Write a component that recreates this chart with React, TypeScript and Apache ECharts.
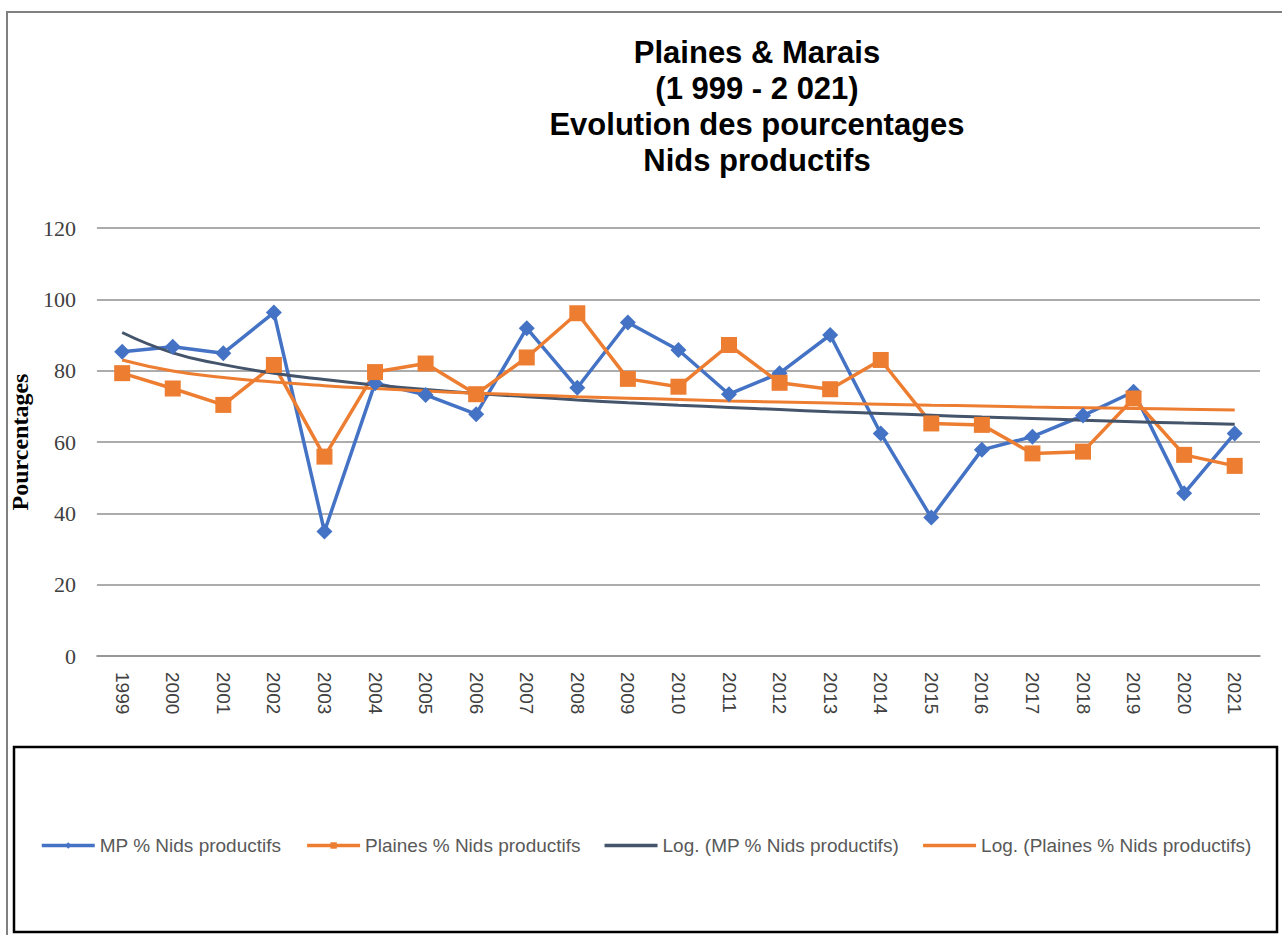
import React, { useEffect, useRef } from "react";
import * as echarts from "echarts";

const years = ["1999","2000","2001","2002","2003","2004","2005","2006","2007","2008","2009","2010","2011","2012","2013","2014","2015","2016","2017","2018","2019","2020","2021"];
const mpValues = [85.3, 86.7, 84.9, 96.3, 34.9, 76.5, 73.2, 67.8, 91.9, 75.2, 93.5, 85.8, 73.4, 79.3, 90.0, 62.4, 38.8, 57.8, 61.5, 67.4, 74.1, 45.6, 62.4];
const plainesValues = [79.3, 75.0, 70.4, 81.6, 55.9, 79.6, 82.0, 73.4, 83.7, 96.1, 77.7, 75.5, 87.2, 76.6, 74.8, 83.0, 65.2, 64.8, 56.8, 57.3, 72.2, 56.4, 53.3];
const logMpValues = [90.7, 85.0, 81.7, 79.3, 77.5, 76.0, 74.7, 73.6, 72.7, 71.8, 71.0, 70.3, 69.7, 69.1, 68.5, 68.0, 67.5, 67.0, 66.6, 66.1, 65.7, 65.3, 65.0];
const logPlainesValues = [83.0, 79.9, 78.1, 76.8, 75.8, 75.0, 74.3, 73.7, 73.2, 72.7, 72.3, 71.9, 71.5, 71.2, 70.9, 70.6, 70.3, 70.1, 69.8, 69.6, 69.4, 69.2, 69.0];
const seriesNames = ["MP % Nids productifs", "Plaines % Nids productifs", "Log. (MP % Nids productifs)", "Log. (Plaines % Nids productifs)"];
const titleLines = ["Plaines & Marais", "(1 999 - 2 021)", "Evolution des pourcentages", "Nids productifs"];
const yAxisTitle = "Pourcentages";

export default function App() {
  const ref = useRef<HTMLDivElement>(null);
  useEffect(() => {
    if (!ref.current) return;
    const chart = echarts.init(ref.current, null, { renderer: "svg" });
    const blue = "#4472C4";
    const orange = "#ED7D31";
    const dark = "#44546A";
    const barIcon = "path://M0,0 L53,0 L53,3.5 L0,3.5 Z";
    chart.setOption({
      animation: false,
      backgroundColor: "#ffffff",
      grid: { left: 92, right: 22, top: 228, bottom: 279, containLabel: false },
      graphic: [
        {
          type: "polyline",
          shape: { points: [[7, 935], [7, 12], [1282, 12]] },
          style: { stroke: "#808080", lineWidth: 2, fill: "none" },
          silent: true,
        },
        {
          type: "rect",
          shape: { x: 14, y: 747, width: 1263, height: 185 },
          style: { stroke: "#000000", lineWidth: 2.5, fill: "none" },
          silent: true,
        },
        {
          type: "text",
          x: 757,
          y: 34,
          style: {
            text: titleLines.join("\n"),
            fontFamily: "Liberation Sans, Arial, sans-serif",
            fontWeight: "bold",
            fontSize: 31,
            lineHeight: 36,
            fill: "#000000",
            align: "center",
            verticalAlign: "top",
          },
        },
      ],
      legend: {
        left: 35,
        top: 831,
        itemWidth: 53,
        itemHeight: 8,
        itemGap: 24,
        textStyle: { fontFamily: "Liberation Sans, Arial, sans-serif", fontSize: 19, color: "#595959" },
        data: [
          { name: seriesNames[0], lineStyle: { width: 3.5 } },
          { name: seriesNames[1], lineStyle: { width: 3.5 } },
          { name: seriesNames[2], icon: barIcon },
          { name: seriesNames[3], icon: barIcon },
        ],
      },
      xAxis: {
        type: "category",
        data: years,
        boundaryGap: true,
        axisLine: { show: true, lineStyle: { color: "#909090", width: 1.5 } },
        axisTick: { show: false },
        axisLabel: {
          rotate: -90,
          margin: 16,
          interval: 0,
          fontFamily: "Liberation Sans, Arial, sans-serif",
          fontSize: 19,
          color: "#404040",
        },
      },
      yAxis: {
        type: "value",
        min: 0,
        max: 120,
        interval: 20,
        name: yAxisTitle,
        nameLocation: "middle",
        nameGap: 64,
        nameTextStyle: { fontFamily: "Liberation Serif, Times New Roman, serif", fontWeight: "bold", fontSize: 24, color: "#000000" },
        axisLine: { show: false },
        axisTick: { show: false },
        splitLine: { lineStyle: { color: "#909090", width: 1.5 } },
        axisLabel: {
          margin: 21,
          fontFamily: "Liberation Serif, Times New Roman, serif",
          fontSize: 22,
          color: "#404040",
        },
      },
      series: [
        {
          name: seriesNames[0],
          type: "line",
          data: mpValues,
          symbol: "diamond",
          symbolSize: 16,
          lineStyle: { color: blue, width: 3.5 },
          itemStyle: { color: blue },
        },
        {
          name: seriesNames[1],
          type: "line",
          data: plainesValues,
          symbol: "rect",
          symbolSize: 16,
          lineStyle: { color: orange, width: 3.5 },
          itemStyle: { color: orange },
        },
        {
          name: seriesNames[2],
          type: "line",
          data: logMpValues,
          symbol: "none",
          smooth: true,
          lineStyle: { color: dark, width: 3 },
          itemStyle: { color: dark },
        },
        {
          name: seriesNames[3],
          type: "line",
          data: logPlainesValues,
          symbol: "none",
          smooth: true,
          lineStyle: { color: orange, width: 3 },
          itemStyle: { color: orange },
        },
      ],
    });
    return () => chart.dispose();
  }, []);
  return <div ref={ref} style={{ position: "absolute", left: 0, top: 0, width: 1282, height: 935 }} />;
}
